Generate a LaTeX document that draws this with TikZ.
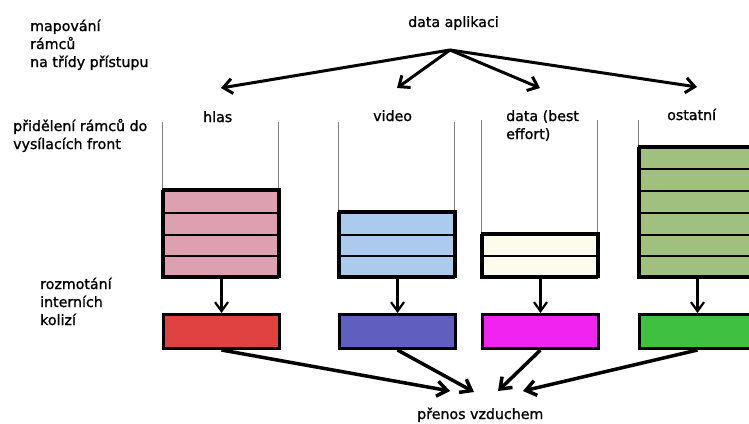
\documentclass[tikz,border=0pt]{standalone}
\usepackage{fontspec}
\setmainfont{DejaVu Sans}
\newfontfamily\lblfont[FakeBold=1.2]{DejaVu Sans}
\usetikzlibrary{arrows.meta}
\definecolor{qpink}{RGB}{221,160,176}
\definecolor{qblue}{RGB}{170,203,238}
\definecolor{qcream}{RGB}{253,251,236}
\definecolor{qgreen}{RGB}{160,192,128}
\definecolor{bred}{RGB}{224,66,66}
\definecolor{bblue}{RGB}{96,94,190}
\definecolor{bmag}{RGB}{240,36,240}
\definecolor{bgreen}{RGB}{64,192,64}
\begin{document}
\begin{tikzpicture}[x=1pt,y=-1pt,
  lbl/.style={anchor=base west, inner sep=0, font=\lblfont\fontsize{14.2}{18}\selectfont},
  qline/.style={draw=gray, line width=0.8},
  row/.style={draw=black, line width=2},
  stack/.style={draw=black, line width=3, inner sep=0, anchor=south west, minimum width=116},
  outbox/.style={draw=black, line width=3, inner sep=0, anchor=north west, minimum width=116, minimum height=34},
  topar/.style={line width=3, -{Straight Barb[length=9, width=15, line width=3]}},
  varr/.style={line width=2.2, -{Straight Barb[length=9, width=13, line width=2.2]}},
  botar/.style={line width=3.5, -{Straight Barb[length=10, width=15, line width=3.5]}}
]
\path[use as bounding box] (0,0) rectangle (749,423);
\clip (0,0) rectangle (749,423);

% labels
\node[lbl] (map1) at (30,31) {mapování};
\node[lbl] (map2) at (30,49) {rámců};
\node[lbl] (map3) at (30,67) {na třídy přístupu};
\node[lbl] (pri1) at (13,131) {přidělení rámců do};
\node[lbl] (pri2) at (13,149) {vysílacích front};
\node[lbl] (roz1) at (40,289) {rozmotání};
\node[lbl] (roz2) at (40,307) {interních};
\node[lbl] (roz3) at (40,325) {kolizí};
\node[lbl] (app) at (408,27) {data aplikaci};
\node[lbl] (lhlas) at (203,122) {hlas};
\node[lbl] (lvideo) at (373,121) {video};
\node[lbl] (ldata1) at (506,121) {data (best};
\node[lbl] (ldata2) at (506,139) {effort)};
\node[lbl] (lost) at (667,120) {ostatní};
\node[lbl] (air) at (417,419) {přenos vzduchem};

% queue side lines
\draw[qline] (162,122) -- (162,191);
\draw[qline] (278,122) -- (278,191);
\draw[qline] (338,122) -- (338,214);
\draw[qline] (454,122) -- (454,214);
\draw[qline] (481,120) -- (481,234);
\draw[qline] (597,120) -- (597,234);
\draw[qline] (638,120) -- (638,148);

% queue rows
\foreach \i in {0,...,3}
  \draw[row, fill=qpink] (162,{278-21.75*\i}) rectangle (278,{278-21.75*(\i+1)});
\foreach \i in {0,...,2}
  \draw[row, fill=qblue] (338,{278-21.75*\i}) rectangle (454,{278-21.75*(\i+1)});
\foreach \i in {0,...,1}
  \draw[row, fill=qcream] (481,{278-21.75*\i}) rectangle (597,{278-21.75*(\i+1)});
\foreach \i in {0,...,5}
  \draw[row, fill=qgreen] (638,{278-21.75*\i}) rectangle (754,{278-21.75*(\i+1)});

% queue stacks (outer frames)
\node[stack, minimum height=87] (qh) at (162,278) {};
\node[stack, minimum height=65.25] (qv) at (338,278) {};
\node[stack, minimum height=43.5] (qd) at (481,278) {};
\node[stack, minimum height=130.5] (qo) at (638,278) {};

% output boxes
\node[outbox, fill=bred] (oh) at (162,313) {};
\node[outbox, fill=bblue] (ov) at (338,313) {};
\node[outbox, fill=bmag] (od) at (481,313) {};
\node[outbox, fill=bgreen] (oo) at (638,313) {};

% vertical arrows
\draw[varr] (qh.south) -- (oh.north);
\draw[varr] (qv.south) -- (ov.north);
\draw[varr] (qd.south) -- (od.north);
\draw[varr] (qo.south) -- (oo.north);

% top distribution arrows
\coordinate (src) at (450,50);
\coordinate (a1) at (221,88);
\coordinate (a2) at (397,88);
\coordinate (a3) at (540,88);
\coordinate (a4) at (697,87);
\draw[topar] (src) -- (a1);
\draw[topar] (src) -- (a2);
\draw[topar] (src) -- (a3);
\draw[topar] (src) -- (a4);

% bottom converging arrows
\coordinate (t1) at (450,391);
\coordinate (t2) at (474,392);
\coordinate (t3) at (498,391);
\coordinate (t4) at (523,391);
\draw[botar] (oh.south) -- (t1);
\draw[botar] (ov.south) -- (t2);
\draw[botar] (od.south) -- (t3);
\draw[botar] (oo.south) -- (t4);
\end{tikzpicture}
\end{document}
